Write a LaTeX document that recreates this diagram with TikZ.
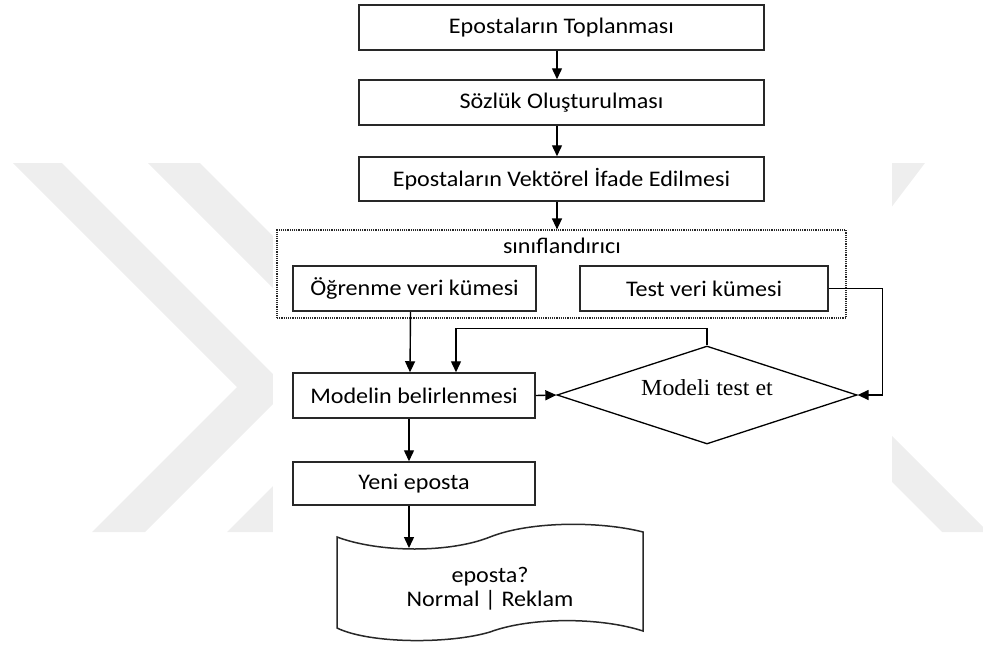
\documentclass[tikz,border=0pt]{standalone}
\usepackage{fontspec}
\setmainfont{Carlito}[FakeStretch=1.08]
\newfontfamily\timesfont{Liberation Serif}[FakeStretch=1.04]
\usetikzlibrary{positioning,shapes.geometric,arrows.meta}
\definecolor{filigran}{RGB}{238,238,238}
\definecolor{cizgi}{RGB}{40,40,40}

\begin{document}
\begin{tikzpicture}[x=1pt,y=-1pt,on grid,
  >={Triangle[length=11pt,width=10pt]},
  yazi/.style={font=\fontsize{22.3}{24}\selectfont},
  kutu/.style={yazi,draw=cizgi,line width=1.5pt,minimum height=45pt,inner sep=0pt},
  ok/.style={->,draw=black,line width=1.4pt}]
\useasboundingbox (0,0) rectangle (983,648);

\fill[filigran] (13,163) -- (62,163) -- (288,389) -- (145,532) -- (92,532) -- (237,387) -- cycle;
\fill[filigran] (148,163) -- (200,163) -- (424,387) -- (279,532) -- (227,532) -- (372,387) -- cycle;
\fill[filigran] (879,163) -- (925,163) -- (793,337) -- (988,532) -- (942,532) -- (748,338) -- cycle;
\fill[white] (273,0) rectangle (892,648);

\node[kutu,minimum width=405pt] (toplama) at (561.5,27.5) {Epostaların Toplanması};
\node[kutu,minimum width=405pt] (sozluk) [below=75pt of toplama] {Sözlük Oluşturulması};
\node[kutu,minimum width=405pt,minimum height=44pt] (vektor) [below=76.5pt of sozluk] {Epostaların Vektörel İfade Edilmesi};
\node[draw=cizgi,densely dotted,line width=1.2pt,minimum width=569pt,minimum height=88pt] (cerceve) at (561.5,274) {};
\node[yazi] (baslik) at (562,246) {sınıflandırıcı};
\node[kutu,minimum width=243pt] (ogrenme) at (414.5,288.5) {Öğrenme veri kümesi};
\node[kutu,minimum width=248pt] (testveri) at (704,288.5) {Test veri kümesi};
\node[kutu,minimum width=242pt] (model) at (414,395.5) {Modelin belirlenmesi};
\node[diamond,aspect=3.06,draw=black,line width=1.3pt,minimum width=300pt,minimum height=98pt,inner sep=0pt,
  text height=15pt,text depth=15pt,font=\timesfont\fontsize{23}{24}\selectfont] (testet) at (707,395) {Modeli test et};
\node[kutu,minimum width=242pt,minimum height=43pt] (yeni) at (414,483.5) {Yeni eposta};

\draw[draw=cizgi,line width=1.5pt] (337,537) .. controls (380,553) and (450,553) .. (490,537)
  .. controls (530,521) and (600,521) .. (643,532) -- (643,631)
  .. controls (600,617) and (530,617) .. (490,632)
  .. controls (450,644) and (370,644) .. (337,628) -- cycle;
\coordinate (sonuc_ust) at (409,548);
\node[yazi,align=center] (sonuc) at (490,589) {eposta?\\Normal | Reklam};

\path[every edge/.style={ok}]
([xshift=-4.5pt]toplama.south) edge ([xshift=-4.5pt]sozluk.north)
([xshift=-4.5pt]sozluk.south) edge ([xshift=-4.5pt]vektor.north)
([xshift=-4.5pt]vektor.south) edge ([xshift=-4.5pt]cerceve.north)
([xshift=-4pt]ogrenme.south) edge ([xshift=-4pt]model.north)
(model.east) edge (testet.west)
([xshift=-5pt]model.south) edge ([xshift=-5pt]yeni.north)
([xshift=-5pt]yeni.south) edge (sonuc_ust)
;
\draw[ok] (testet.north) -- ([yshift=17pt]testet.north) -| ([xshift=42pt]model.north);
\draw[ok] (testveri.east) -- ([xshift=54pt]testveri.east) |- (testet.east);
\end{tikzpicture}
\end{document}
